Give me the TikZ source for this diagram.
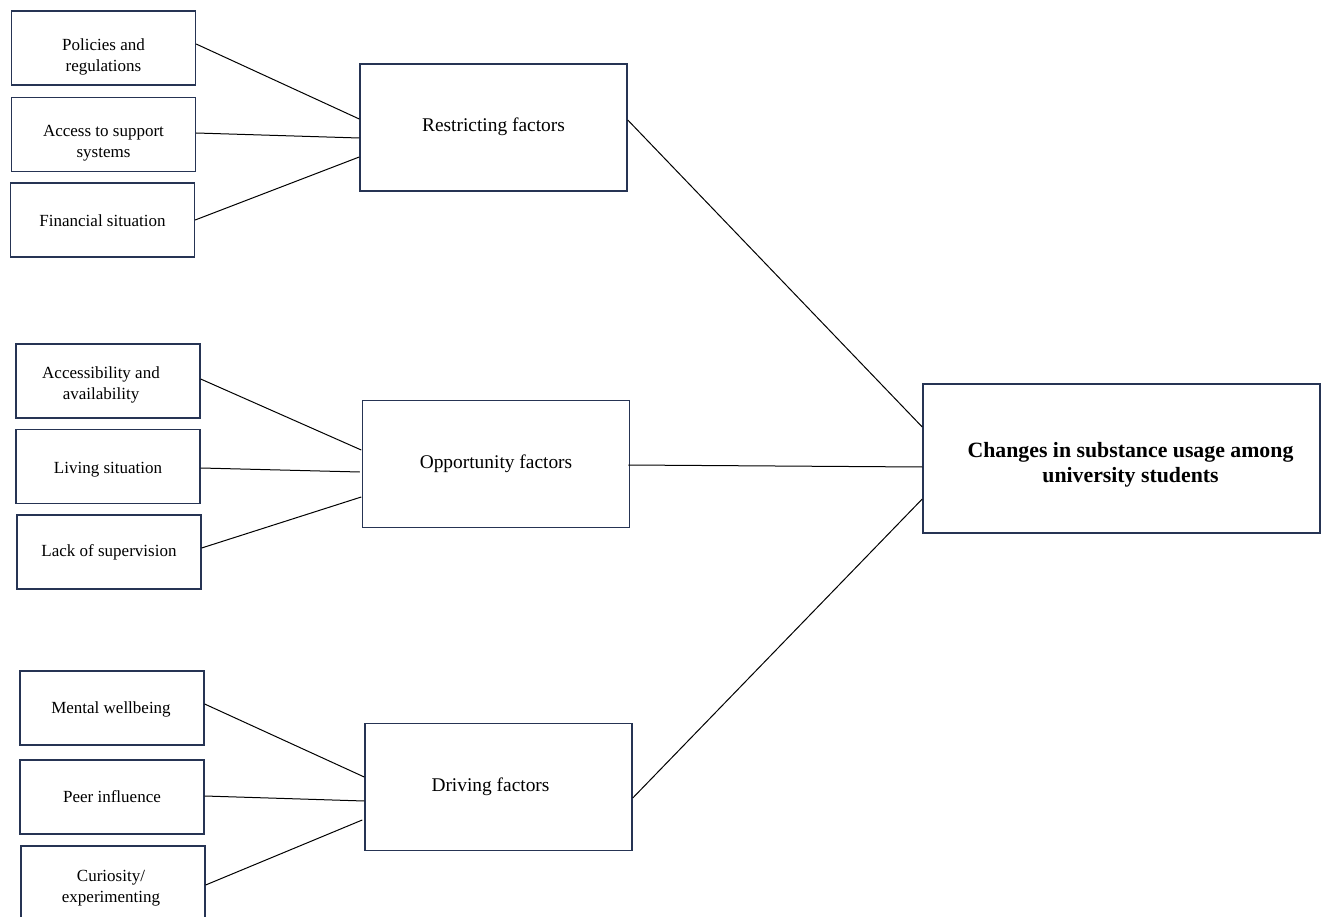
\documentclass[tikz,border=0pt]{standalone}
\usepackage{fontspec}
\setmainfont{Liberation Serif}
\usetikzlibrary{calc}
\definecolor{boxblue}{RGB}{38,52,84}
\begin{document}
\begin{tikzpicture}[x=1pt,y=-1pt,
  smallbox/.style={draw=boxblue,line width=1.3pt,minimum width=184pt,minimum height=74pt,inner sep=0pt},
  midbox/.style={draw=boxblue,line width=1.5pt,minimum width=267pt,minimum height=127pt,inner sep=0pt},
  bigbox/.style={draw=boxblue,line width=1.5pt,minimum width=397pt,minimum height=149pt,inner sep=0pt},
  stxt/.style={align=center,inner sep=0pt,font=\fontsize{17}{21}\selectfont},
  mtxt/.style={align=center,inner sep=0pt,font=\fontsize{19.4}{23}\selectfont},
  btxt/.style={align=center,inner sep=0pt,font=\fontsize{21.8}{25}\selectfont\bfseries},
  link/.style={draw=black,line width=1pt}]
\useasboundingbox (0,0) rectangle (1326,917);
\begin{scope}
\clip (0,0) rectangle (1326,917);
% restricting group
\node[smallbox,label={[stxt,yshift=-9pt]center:Policies and\\regulations}] (pol) at (103.5,48) {};
\node[smallbox,label={[stxt,yshift=-9pt]center:Access to support\\systems}] (acc) at (103.5,134.5) {};
\node[smallbox,label={[stxt,yshift=-1pt]center:Financial situation}] (fin) at (102.5,220) {};
\node[midbox,label={[mtxt,yshift=1pt]center:Restricting factors}] (res) at (493.5,127.5) {};
% opportunity group
\node[smallbox,label={[stxt,xshift=-7pt,yshift=-4pt]center:Accessibility and\\availability}] (ava) at (108,381) {};
\node[smallbox,label={[stxt,yshift=-3pt]center:Living situation}] (liv) at (108,466.5) {};
\node[smallbox,label={[stxt]center:Lack of supervision}] (lac) at (109,552) {};
\node[midbox,label={[mtxt]center:Opportunity factors}] (opp) at (496,464) {};
% driving group
\node[smallbox,label={[stxt,xshift=-1pt,yshift=-1pt]center:Mental wellbeing}] (men) at (112,708) {};
\node[smallbox,label={[stxt]center:Peer influence}] (pee) at (112,797) {};
\node[smallbox,label={[stxt,xshift=-2pt,yshift=-5pt]center:Curiosity/\\experimenting}] (cur) at (113,883) {};
\node[midbox,label={[mtxt,xshift=-8pt]center:Driving factors}] (dri) at (498.5,787) {};
% outcome
\node[bigbox,label={[btxt,xshift=9pt,yshift=-6pt]center:Changes in substance usage among\\university students}] (chg) at (1121.5,458.5) {};
% connectors
\draw[link] ([yshift=4pt]pol.east) -- ([yshift=8.5pt]res.west);
\draw[link] ([yshift=1.5pt]acc.east) -- ([yshift=-10.5pt]res.west);
\draw[link] (fin.east) -- ([yshift=-29.5pt]res.west);
\draw[link] ([yshift=2pt]ava.east) -- ([xshift=-0.5pt,yshift=14pt]opp.west);
\draw[link] ([yshift=-1.5pt]liv.east) -- ([xshift=-2pt,yshift=-8pt]opp.west);
\draw[link] ([yshift=4pt]lac.east) -- ([xshift=-0.5pt,yshift=-33pt]opp.west);
\draw[link] ([yshift=4pt]men.east) -- ([yshift=10pt]dri.west);
\draw[link] ([yshift=1pt]pee.east) -- ([yshift=-14pt]dri.west);
\draw[link] ([yshift=-2pt]cur.east) -- ([xshift=-2pt,yshift=-33pt]dri.west);
\draw[link] ([yshift=7.5pt]res.east) -- ([yshift=31.5pt]chg.west);
\draw[link] ([xshift=-2pt,yshift=-1pt]opp.east) -- ([yshift=-8.5pt]chg.west);
\draw[link] ([yshift=-11pt]dri.east) -- ([yshift=-40.5pt]chg.west);
\end{scope}
\end{tikzpicture}
\end{document}
